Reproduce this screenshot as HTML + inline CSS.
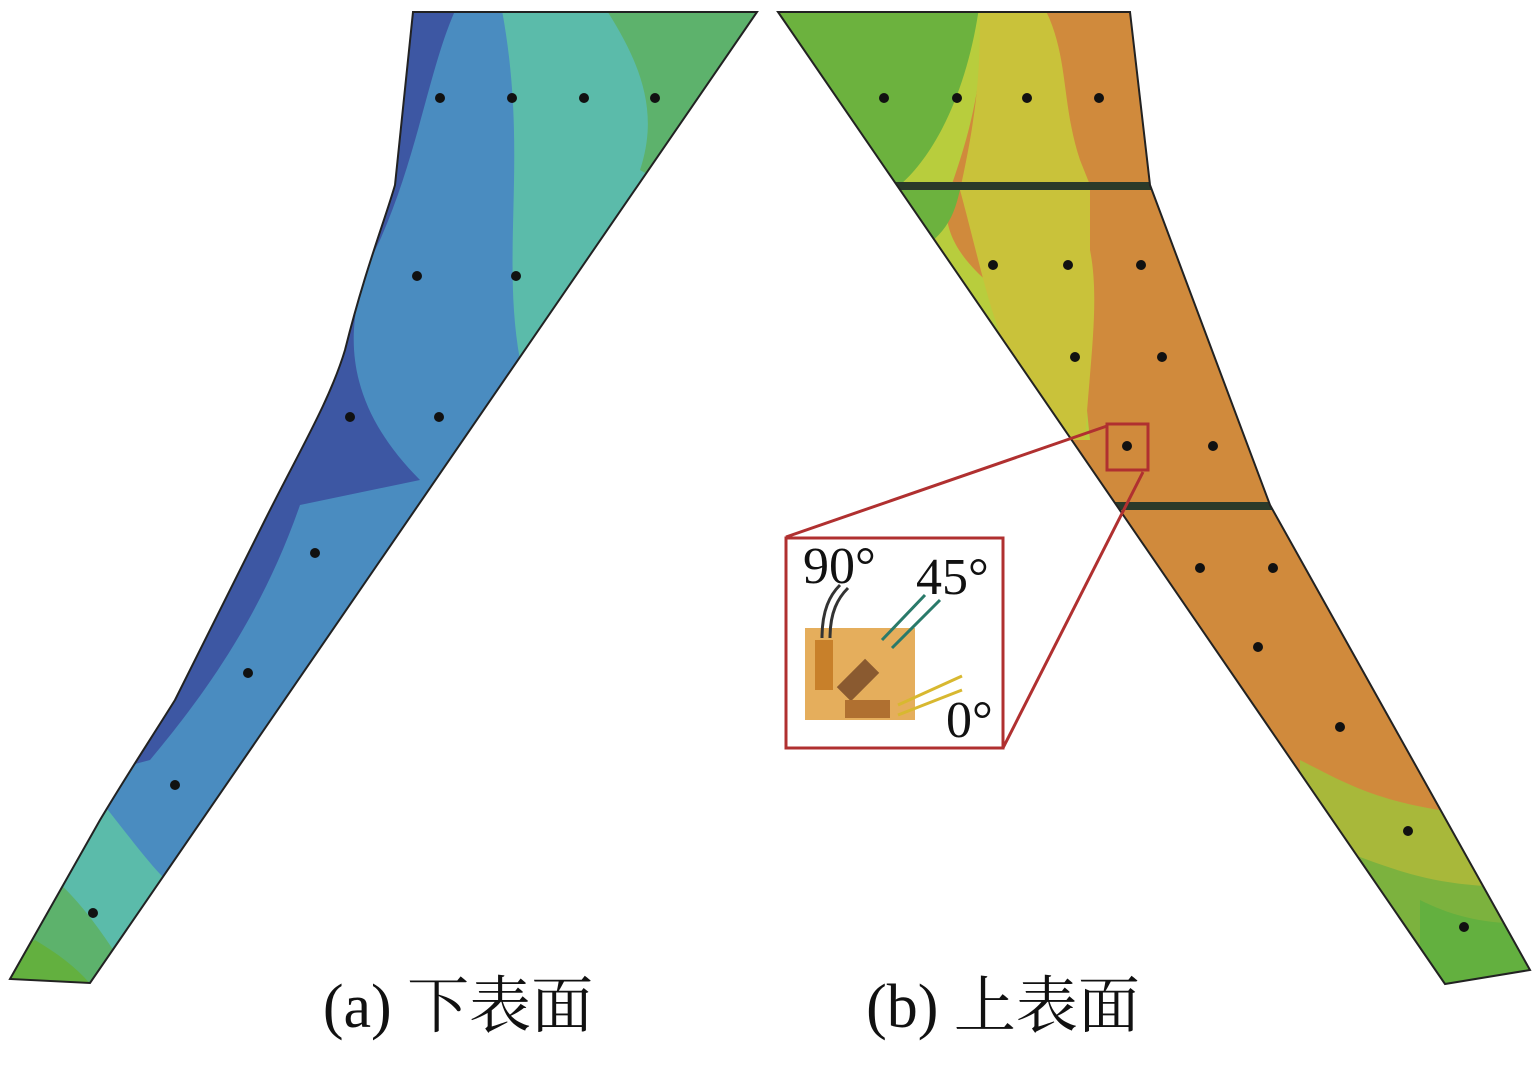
<!DOCTYPE html>
<html><head><meta charset="utf-8"><style>
html,body{margin:0;padding:0;background:#fff;}
svg{display:block}
</style></head><body>
<svg width="1535" height="1068" viewBox="0 0 1535 1068" xmlns="http://www.w3.org/2000/svg">
<defs>
<clipPath id="cl"><path d="M413,12 L757,12 L90,983 L10,979 L100,820 C130,770 150,740 175,700 C215,620 240,570 265,520 C300,450 330,400 345,350 C365,270 385,220 395,185 Z"/></clipPath>
<clipPath id="cr"><path d="M778,12 L1130,12 L1150,185 L1270,505 L1530,970 L1445,984 Z"/></clipPath>
</defs>
<g clip-path="url(#cl)">
<rect x="0" y="0" width="800" height="1000" fill="#4a8cc0"/>
<path d="M400,0 L460,0 C430,60 420,150 380,240 C340,320 340,400 420,480 L300,505 C260,620 200,700 150,760 L0,800 L0,0 Z" fill="#3d57a3"/>
<path d="M520,0 L800,0 L800,400 L520,360 C500,250 530,150 500,0 Z" fill="#5bbbaa"/>
<path d="M600,0 L800,0 L800,260 L640,170 C660,110 640,60 600,0 Z" fill="#5db26c"/>
<path d="M0,830 L100,800 C140,850 160,880 190,900 L150,1000 L0,1000 Z" fill="#5bbbaa"/>
<path d="M0,930 L45,870 C80,900 100,930 120,960 L110,1000 L0,1000 Z" fill="#5db26c"/>
<path d="M0,960 L35,940 C60,955 80,970 95,990 L0,1000 Z" fill="#63b03f"/>
</g>
<path d="M413,12 L757,12 L90,983 L10,979 L100,820 C130,770 150,740 175,700 C215,620 240,570 265,520 C300,450 330,400 345,350 C365,270 385,220 395,185 Z" fill="none" stroke="#222" stroke-width="2"/>
<g clip-path="url(#cr)">
<rect x="700" y="0" width="900" height="1000" fill="#d08a3c"/>
<path d="M700,0 L980,0 C990,80 960,160 950,190 C930,250 1000,300 1080,340 L1090,440 L700,440 Z" fill="#b8cd3d"/>
<path d="M700,0 L980,0 C970,80 940,150 900,185 L960,190 C950,230 940,280 700,300 Z" fill="#6cb23e"/>
<path d="M1040,0 L1130,0 L1130,180 L1080,160 C1060,100 1070,50 1040,0 Z" fill="#d08a3c"/>
<path d="M980,0 L1040,0 C1070,50 1060,100 1080,160 L1090,185 L1090,250 C1100,300 1090,360 1085,440 L1070,440 C1000,380 990,300 960,190 C980,100 980,60 980,0 Z" fill="#c9c23a"/>
<path d="M1300,760 C1360,790 1400,820 1600,820 L1600,1000 L1300,1000 Z" fill="#a8b83a"/>
<path d="M1340,850 C1400,870 1450,900 1600,880 L1600,1000 L1340,1000 Z" fill="#7cb23e"/>
<path d="M1420,900 C1460,920 1500,930 1600,920 L1600,1000 L1420,1000 Z" fill="#63b03f"/>
<rect x="880" y="182" width="280" height="8" fill="#2a3a2a"/>
<rect x="1100" y="502" width="190" height="8" fill="#2a3a2a"/>
</g>
<path d="M778,12 L1130,12 L1150,185 L1270,505 L1530,970 L1445,984 Z" fill="none" stroke="#222" stroke-width="2"/>
<g fill="#111">
<circle cx="440" cy="98" r="5"/><circle cx="512" cy="98" r="5"/><circle cx="584" cy="98" r="5"/><circle cx="655" cy="98" r="5"/>
<circle cx="417" cy="276" r="5"/><circle cx="516" cy="276" r="5"/>
<circle cx="350" cy="417" r="5"/><circle cx="439" cy="417" r="5"/>
<circle cx="315" cy="553" r="5"/><circle cx="248" cy="673" r="5"/><circle cx="175" cy="785" r="5"/><circle cx="93" cy="913" r="5"/>
<circle cx="884" cy="98" r="5"/><circle cx="957" cy="98" r="5"/><circle cx="1027" cy="98" r="5"/><circle cx="1099" cy="98" r="5"/>
<circle cx="993" cy="265" r="5"/><circle cx="1068" cy="265" r="5"/><circle cx="1141" cy="265" r="5"/>
<circle cx="1075" cy="357" r="5"/><circle cx="1162" cy="357" r="5"/>
<circle cx="1127" cy="446" r="5"/><circle cx="1213" cy="446" r="5"/>
<circle cx="1200" cy="568" r="5"/><circle cx="1273" cy="568" r="5"/>
<circle cx="1258" cy="647" r="5"/><circle cx="1340" cy="727" r="5"/><circle cx="1408" cy="831" r="5"/><circle cx="1464" cy="927" r="5"/>
</g>
<g stroke="#b03030" stroke-width="3" fill="none">
<rect x="1107" y="424" width="41" height="46"/>
<line x1="786" y1="537" x2="1107" y2="426"/>
<line x1="1003" y1="748" x2="1143" y2="472"/>
<rect x="786" y="538" width="217" height="210" fill="#fff"/>
</g>
<g>
<rect x="805" y="628" width="110" height="92" fill="#e0a040" opacity="0.85"/>
<rect x="815" y="640" width="18" height="50" fill="#c8802a"/>
<rect x="848" y="660" width="20" height="40" fill="#8a5a30" transform="rotate(45 858 680)"/>
<rect x="845" y="700" width="45" height="18" fill="#b07030"/>
<path d="M822,638 C822,610 830,595 840,585 M830,638 C830,612 838,598 848,588" stroke="#333" stroke-width="3" fill="none"/>
<path d="M882,640 L925,595 M892,648 L940,600" stroke="#2a7a6a" stroke-width="3"/>
<path d="M898,705 L962,676 M898,715 L962,690" stroke="#d8b830" stroke-width="3"/>
</g>
<g font-family="Liberation Serif, serif" font-size="52" fill="#111">
<text x="803" y="583">90°</text>
<text x="916" y="594">45°</text>
<text x="946" y="737">0°</text>
</g>
<g font-family="Liberation Serif, 'Noto Serif CJK SC', serif" font-size="62" fill="#111">
<text x="458" y="1027" text-anchor="middle">(a) 下表面</text>
<text x="1003" y="1027" text-anchor="middle">(b) 上表面</text>
</g>
</svg>
</body></html>
